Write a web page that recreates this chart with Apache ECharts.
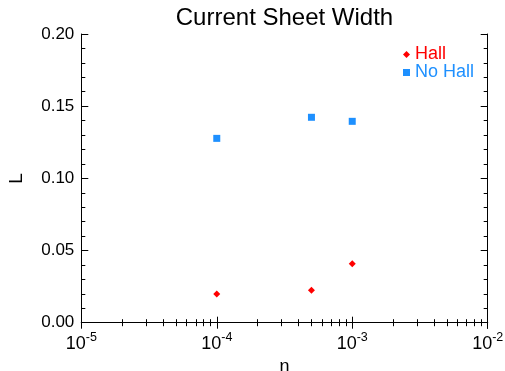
<!DOCTYPE html>
<html>
<head>
<meta charset="utf-8">
<script src="https://cdn.jsdelivr.net/npm/echarts@6/dist/echarts.min.js"></script>
<style>html,body{margin:0;padding:0;background:#fff;}#c{width:505px;height:371px;}</style>
</head>
<body>
<div id="c"></div>
<script>
var etaValues = [1e-4, 5e-4, 1e-3];
var hallL = [0.0199, 0.0224, 0.0409];
var noHallL = [0.1277, 0.1423, 0.1395];
var xTickExponents = [-5, -4, -3, -2];
var yTickLabels = ['0.00', '0.05', '0.10', '0.15', '0.20'];

var chart = echarts.init(document.getElementById('c'), null, {renderer: 'canvas'});
var FONT = 'Liberation Sans';
function pairs(xs, ys) { return xs.map(function (x, i) { return [x, ys[i]]; }); }

var axisCommonX = {
  type: 'log', logBase: 10, min: 1e-5, max: 1e-2,
  axisLine: {show: true, lineStyle: {color: '#000', width: 1}},
  axisTick: {show: true, inside: true, length: 6, lineStyle: {color: '#000'}},
  minorTick: {show: true, splitNumber: 9, length: 3.5, lineStyle: {color: '#000'}},
  splitLine: {show: false}, minorSplitLine: {show: false}
};
var axisCommonY = {
  type: 'value', min: 0, max: 0.2, interval: 0.05,
  axisLine: {show: true, lineStyle: {color: '#000', width: 1}},
  axisTick: {show: true, inside: true, length: 7, lineStyle: {color: '#000'}},
  minorTick: {show: true, splitNumber: 5, length: 4, lineStyle: {color: '#000'}},
  splitLine: {show: false}, minorSplitLine: {show: false}
};

chart.setOption({
  animation: false,
  backgroundColor: '#fff',
  textStyle: {fontFamily: FONT},
  title: {
    text: 'Current Sheet Width', left: 284.5, textAlign: 'center', top: 6, padding: 0,
    textStyle: {fontFamily: FONT, fontSize: 24, fontWeight: 'normal', color: '#000'}
  },
  legend: {
    orient: 'vertical', left: 403, top: 45.5, padding: 0, itemWidth: 7, itemHeight: 7, itemGap: 0,
    textStyle: {fontFamily: FONT, fontSize: 18, lineHeight: 17.5},
    data: [
      {name: 'Hall', icon: 'diamond', textStyle: {color: '#ff0000'}},
      {name: 'No Hall', icon: 'rect', textStyle: {color: '#1e90ff'}}
    ]
  },
  grid: {left: 81.3, right: 17.3, top: 34, bottom: 48.3, containLabel: false, outerBoundsMode: 'none'},
  xAxis: [
    Object.assign({}, axisCommonX, {
      position: 'bottom',
      name: 'η', nameLocation: 'middle', nameGap: 28,
      nameTextStyle: {fontFamily: FONT, fontSize: 18, color: '#000'},
      axisLabel: {
        show: true, margin: 8, color: '#000',
        formatter: function (v) {
          var e = Math.round(Math.log10(v));
          var idx = xTickExponents.indexOf(e);
          return '{b|10}{s|' + (idx >= 0 ? xTickExponents[idx] : e) + '}';
        },
        rich: {
          b: {fontFamily: FONT, fontSize: 18, color: '#000', lineHeight: 22, verticalAlign: 'bottom'},
          s: {fontFamily: FONT, fontSize: 12.5, color: '#000', lineHeight: 22, verticalAlign: 'top'}
        }
      }
    }),
    Object.assign({}, axisCommonX, {position: 'top', axisLabel: {show: false}})
  ],
  yAxis: [
    Object.assign({}, axisCommonY, {
      position: 'left',
      name: 'L', nameLocation: 'middle', nameGap: 55, nameRotate: 90,
      nameTextStyle: {fontFamily: FONT, fontSize: 19, color: '#000'},
      axisLabel: {
        show: true, margin: 7, color: '#000', fontFamily: FONT, fontSize: 17,
        formatter: function (v) { return yTickLabels[Math.round(v / 0.05)]; }
      }
    }),
    Object.assign({}, axisCommonY, {position: 'right', axisLabel: {show: false}})
  ],
  series: [
    {
      name: 'Hall', type: 'scatter', symbol: 'diamond', symbolSize: 7,
      itemStyle: {color: '#ff0000', opacity: 1}, data: pairs(etaValues, hallL)
    },
    {
      name: 'No Hall', type: 'scatter', symbol: 'rect', symbolSize: 7,
      itemStyle: {color: '#1e90ff', opacity: 1}, data: pairs(etaValues, noHallL)
    }
  ]
});
</script>
</body>
</html>
